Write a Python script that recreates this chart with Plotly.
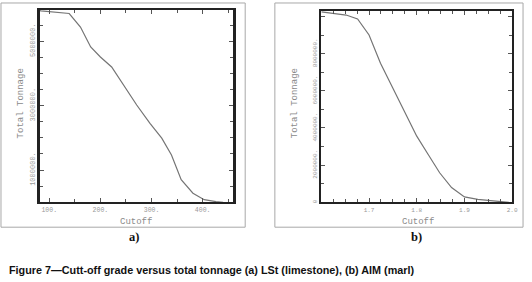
import plotly.graph_objects as go

# Panel a) LSt (limestone)
cutoff_a = [81, 84, 139, 161, 181, 200, 222, 245, 271, 297, 320, 339, 358, 381, 403, 426, 440]
tonnage_a = [5.95e6, 5.94e6, 5.86e6, 5.44e6, 4.82e6, 4.51e6, 4.20e6, 3.64e6, 3.02e6, 2.45e6,
             1.99e6, 1.47e6, 0.70e6, 0.28e6, 0.08e6, 0.02e6, 0.0]
# Panel b) AIM (marl)
cutoff_b = [1.60, 1.610, 1.652, 1.676, 1.700, 1.724, 1.748, 1.776, 1.800, 1.824, 1.848, 1.873,
            1.900, 1.928, 1.969, 1.993]
tonnage_b = [10.25e6, 10.22e6, 10.08e6, 9.87e6, 9.01e6, 7.49e6, 6.24e6, 4.81e6, 3.56e6, 2.57e6,
             1.59e6, 0.79e6, 0.29e6, 0.16e6, 0.04e6, 0.0]

xa_ticks = [100, 200, 300, 400]
xa_text = ["100.", "200.", "300.", "400."]
ya_ticks = [1e6, 3e6, 5e6]
ya_text = ["1000000.", "3000000.", "5000000."]
xb_ticks = [1.7, 1.8, 1.9, 2.0]
xb_text = ["1.7", "1.8", "1.9", "2.0"]
yb_ticks = [0, 2e6, 4e6, 6e6, 8e6, 10e6]
yb_text = ["0", "2000000.", "4000000.", "6000000.", "8000000.", "10000000."]

W, H = 532, 282
def px(x):
    return x / W
def py(y):
    return 1 - y / H

fig = go.Figure()
line_style = dict(color="#757575", width=1.2)
fig.add_trace(go.Scatter(x=cutoff_a, y=tonnage_a, mode="lines", line=line_style,
                         xaxis="x", yaxis="y", showlegend=False, hoverinfo="skip"))
fig.add_trace(go.Scatter(x=cutoff_b, y=tonnage_b, mode="lines", line=line_style,
                         xaxis="x2", yaxis="y2", showlegend=False, hoverinfo="skip"))

MONO = "Liberation Mono, Courier New, monospace"
def tf(size):
    return dict(family=MONO, size=size, color="#9a9a9a")

common = dict(showline=True, linewidth=2.2, linecolor="#222", mirror="allticks",
              ticks="inside", ticklen=4, tickwidth=1, tickcolor="#555",
              showgrid=False, zeroline=False, tickmode="array")
minor_common = dict(ticks="inside", ticklen=3, tickwidth=1, tickcolor="#555", showgrid=False)

fig.update_layout(
    width=W, height=H, margin=dict(l=0, r=0, t=0, b=0),
    paper_bgcolor="white", plot_bgcolor="white",
    xaxis=dict(domain=[px(40), px(236)], range=[81, 460], anchor="y",
               tickvals=xa_ticks, ticktext=xa_text, tickfont=tf(6.5),
               minor=dict(dtick=50, tick0=0, **minor_common), **common),
    yaxis=dict(domain=[py(203), py(10)], range=[0, 5.97e6], anchor="x",
               tickvals=ya_ticks, ticktext=ya_text, tickangle=-90, tickfont=tf(7),
               minor=dict(dtick=5e5, tick0=0, **minor_common), **common),
    xaxis2=dict(domain=[px(325), px(518)], range=[1.6, 2.0], anchor="y2",
                tickvals=xb_ticks, ticktext=xb_text, tickfont=tf(6),
                minor=dict(dtick=0.025, tick0=0, **minor_common), **common),
    yaxis2=dict(domain=[py(203), py(11)], range=[0, 10.3e6], anchor="x2",
                tickvals=yb_ticks, ticktext=yb_text, tickangle=-90, tickfont=tf(6),
                minor=dict(dtick=1e6, tick0=0, **minor_common), **common),
)

# outer gray frames
for x0, x1 in [(1, 248), (278, 529)]:
    fig.add_shape(type="rect", xref="paper", yref="paper",
                  x0=px(x0), x1=px(x1), y0=py(228), y1=py(3),
                  line=dict(color="#a8a8a8", width=1), fillcolor="rgba(0,0,0,0)", layer="below")

def note(x, y, text, font, angle=0, xanchor="center"):
    fig.add_annotation(x=px(x), y=py(y), xref="paper", yref="paper", text=text,
                       showarrow=False, font=font, textangle=angle,
                       xanchor=xanchor, yanchor="middle")

title_font = dict(family=MONO, size=9, color="#8a8a8a")
note(138, 223, "Cutoff", title_font)
note(423, 223, "Cutoff", title_font)
note(21, 104, "Total Tonnage", title_font, angle=-90)
note(298, 104, "Total Tonnage", title_font, angle=-90)

lab_font = dict(family="Liberation Serif, Times New Roman, serif", size=12.5, color="#111")
note(136, 238, "<b>a)</b>", lab_font)
note(421, 238, "<b>b)</b>", lab_font)

note(7, 271, "<b>Figure 7\u2014Cutt-off grade versus total tonnage (a) LSt (limestone), (b) AIM (marl)</b>",
     dict(family="Liberation Sans, Arial, sans-serif", size=10.8, color="#111"), xanchor="left")

fig.write_html("out.html", config={"displayModeBar": False, "staticPlot": True},
               post_script="document.body.style.margin='0';document.body.style.padding='0';"
                           "document.body.style.overflow='hidden';")
